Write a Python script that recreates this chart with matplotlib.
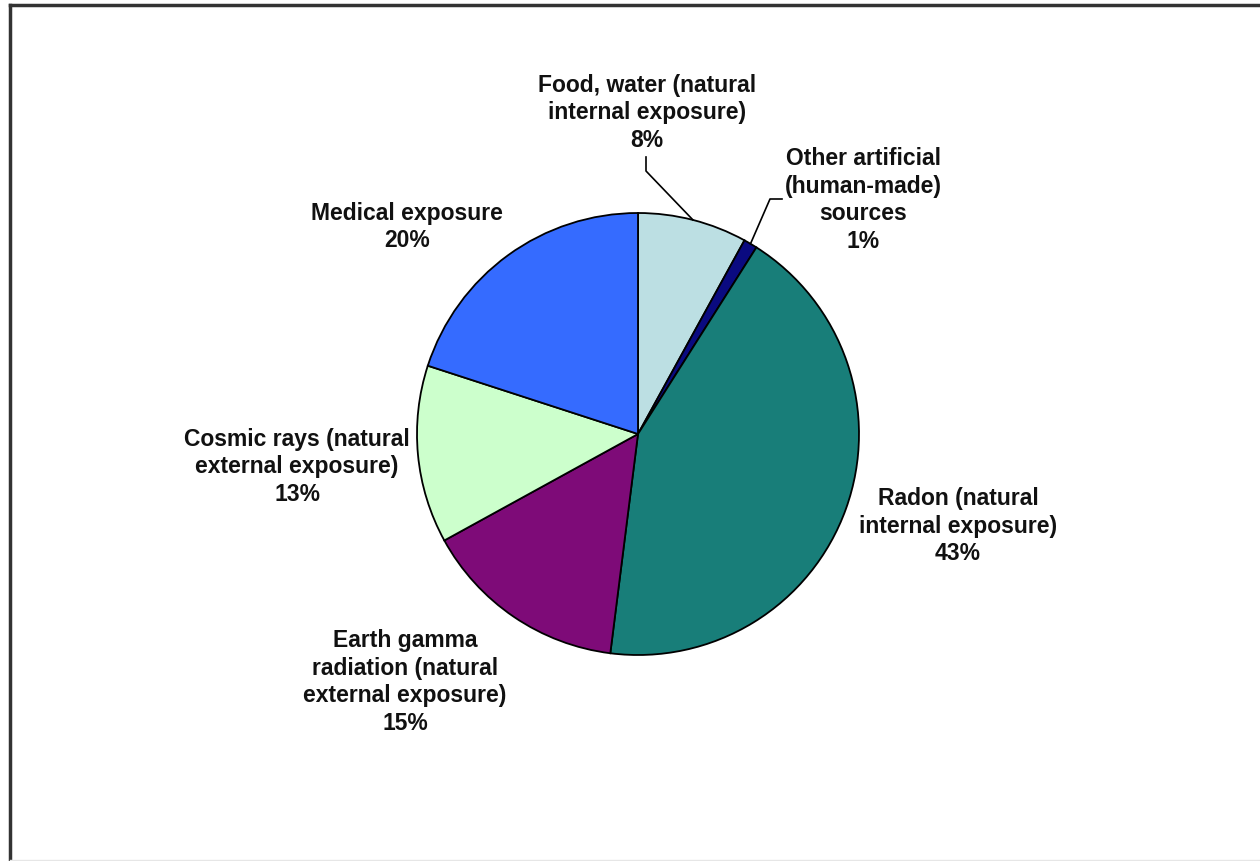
import numpy as np
import matplotlib
matplotlib.use('Agg')
import matplotlib.pyplot as plt

plt.rcParams['font.family'] = ['Liberation Sans', 'DejaVu Sans']

# data
names = ['Food, water (natural\ninternal exposure)',
         'Other artificial\n(human-made)\nsources',
         'Radon (natural\ninternal exposure)',
         'Earth gamma\nradiation (natural\nexternal exposure)',
         'Cosmic rays (natural\nexternal exposure)',
         'Medical exposure']
shares = [8, 1, 43, 15, 13, 20]
colors = ['#bcdfe3', '#0a0a80', '#187e79', '#7e0b78', '#ccffcc', '#356bff']

# label centres in pixels (x, y from top)
label_pos = [(647, 113), (863, 200), (958, 526), (405, 682), (297, 467), (407, 227)]

W, H = 1260, 862
fig = plt.figure(figsize=(W / 100, H / 100), dpi=100)
ax = fig.add_axes([0, 0, 1, 1])

cx, cy, R = 638, H - 435, 221
wedges, _ = ax.pie(shares, colors=colors, startangle=90, counterclock=False,
                   center=(cx, cy), radius=R,
                   wedgeprops=dict(edgecolor='black', linewidth=1.3))

for n, s, (lx, ly) in zip(names, shares, label_pos):
    ax.text(lx, H - ly, f'{n}\n{s}%', ha='center', va='center',
            fontsize=16.5, fontweight='bold', linespacing=1.27, color='#111111')

# leader lines for the two small slices on top
def edge_point(w):
    a = np.deg2rad((w.theta1 + w.theta2) / 2)
    return cx + R * np.cos(a), cy + R * np.sin(a)

ex, ey = edge_point(wedges[0])
ax.plot([646, 646, ex], [H - 158, H - 172, ey], color='black', lw=1.2)
ex, ey = edge_point(wedges[1])
ax.plot([782, 770, ex], [H - 200, H - 200, ey], color='black', lw=1.2)

ax.set_xlim(0, W)
ax.set_ylim(0, H)
ax.set_aspect('equal')
ax.axis('off')

# outer frame
ax.plot([10, 10], [0, H - 6], color='#333333', lw=2.5)
ax.plot([10, W], [H - 6, H - 6], color='#333333', lw=2.5)
ax.plot([10, W], [1, 1], color='#e6e6e6', lw=1)

fig.savefig('out.png', dpi=100)
